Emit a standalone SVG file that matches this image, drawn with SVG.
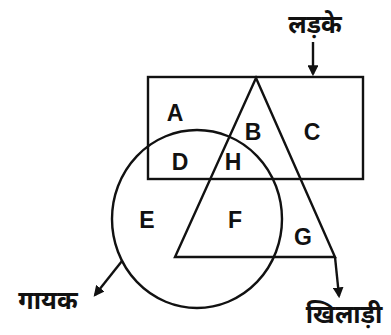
<svg xmlns="http://www.w3.org/2000/svg" width="391" height="335" viewBox="0 0 391 335">
<defs>
<style>
.s{fill:none;stroke:#111;stroke-width:2.4}
.l{font-family:"Liberation Sans",Arial,sans-serif;font-weight:bold;font-size:23px;fill:#111;text-anchor:middle}
.h{font-family:"Noto Sans","Noto Sans CJK SC",sans-serif;font-weight:bold;font-size:25px;fill:#111;text-anchor:middle}
</style>
<marker id="ar" viewBox="0 0 10 10" refX="8" refY="5" markerWidth="4.5" markerHeight="4.5" orient="auto"><path d="M0,0 L10,5 L0,10 z" fill="#111"/></marker>
</defs>
<rect width="391" height="335" fill="#fff"/>
<g id="boys"><rect class="s" x="148" y="77" width="215" height="102"/></g>
<g id="players"><path class="s" d="M256,78 L175,257 L335,257 Z"/></g>
<g id="singers"><ellipse class="s" cx="197" cy="219" rx="85" ry="89"/></g>
<g id="connectors">
<line class="s" x1="313" y1="42" x2="313" y2="74" marker-end="url(#ar)"/>
<line class="s" x1="335" y1="257" x2="339" y2="296" marker-end="url(#ar)"/>
<line class="s" x1="122" y1="261" x2="95" y2="295" marker-end="url(#ar)"/>
</g>
<g id="labels">
<text class="l" x="175" y="121">A</text>
<text class="l" x="253" y="140">B</text>
<text class="l" x="312" y="140">C</text>
<text class="l" x="180" y="170">D</text>
<text class="l" x="233" y="170">H</text>
<text class="l" x="147" y="228">E</text>
<text class="l" x="235" y="228">F</text>
<text class="l" x="303" y="245">G</text>
<text class="h" x="315" y="33">लड़के</text>
<text class="h" x="48" y="309">गायक</text>
<text class="h" x="344" y="323">खिलाड़ी</text>
</g>
</svg>
